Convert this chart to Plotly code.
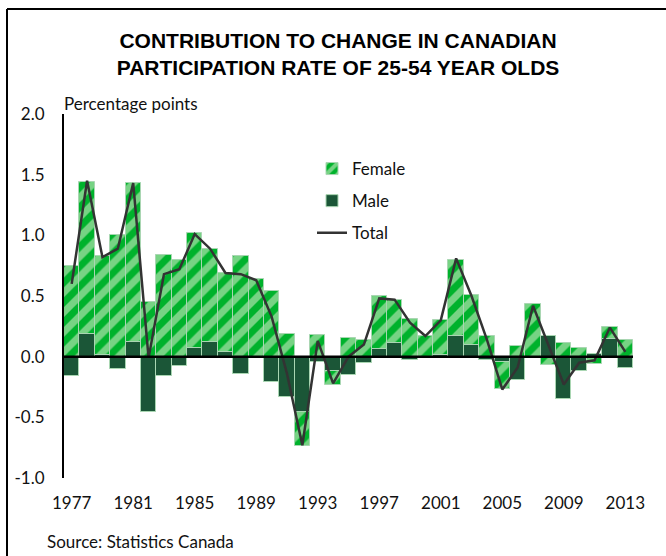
import plotly.graph_objects as go

# ---------------- data ----------------
years = list(range(1977, 2014))
female = [0.75, 1.25, 0.82, 1.00, 1.31, 0.45, 0.84, 0.80, 0.95, 0.77,
          0.65, 0.83, 0.64, 0.54, 0.19, -0.28, 0.18, -0.11, 0.15, 0.14,
          0.44, 0.36, 0.31, 0.17, 0.29, 0.63, 0.41, 0.17, -0.23, 0.09,
          0.43, -0.07, 0.11, 0.07, -0.06, 0.10, 0.14]
male = [-0.16, 0.19, 0.01, -0.10, 0.12, -0.46, -0.16, -0.08, 0.07, 0.12,
        0.04, -0.14, -0.01, -0.21, -0.33, -0.46, -0.04, -0.12, -0.15, -0.05,
        0.06, 0.11, -0.03, 0.00, 0.01, 0.17, 0.10, -0.03, -0.04, -0.19,
        0.00, 0.17, -0.35, -0.12, 0.02, 0.145, -0.09]
total = [0.60, 1.45, 0.82, 0.89, 1.43, -0.01, 0.68, 0.72, 1.01, 0.89,
         0.69, 0.68, 0.63, 0.33, -0.14, -0.73, 0.13, -0.22, 0.00, 0.10,
         0.48, 0.47, 0.28, 0.17, 0.30, 0.81, 0.50, 0.14, -0.27, -0.09,
         0.42, 0.10, -0.23, -0.05, -0.03, 0.24, 0.04]
y_tick_vals = [-1.0, -0.5, 0.0, 0.5, 1.0, 1.5, 2.0]
y_tick_text = ["-1.0", "-0.5", "0.0", "0.5", "1.0", "1.5", "2.0"]
x_tick_vals = list(range(1977, 2014, 4))
x_tick_text = [str(v) for v in x_tick_vals]

# ---------------- style ----------------
FEMALE_BG = "#00B22C"
FEMALE_FG = "#EEF3DC"
MALE_COL = "#1B5637"
EDGE = "#A9D6B2"
LINE_COL = "#333333"
TXT = "Lato, 'Open Sans', sans-serif"
FS = 17

W, H = 666, 556
L, R, T, B = 64, 33, 114, 78
PW, PH = W - L - R, H - T - B


def px_x(x):
    return (x - L) / PW


def px_y(y):
    return (H - B - y) / PH


fig = go.Figure()
fig.add_trace(go.Bar(
    x=years, y=male, name="Male", legendrank=2, legendgroup="m",
    marker=dict(color=MALE_COL, line=dict(color=EDGE, width=1)),
))
fig.add_trace(go.Bar(
    x=years, y=female, name="Female", legendrank=1, legendgroup="f",
    marker=dict(color=FEMALE_BG,
                pattern=dict(shape="/", bgcolor=FEMALE_BG, fgcolor=FEMALE_FG,
                             size=14, solidity=0.5),
                line=dict(color=EDGE, width=1)),
))
fig.add_trace(go.Scatter(
    x=years, y=total, name="Total", mode="lines", legendrank=3, legendgroup="t",
    line=dict(color=LINE_COL, width=2.5),
))

fig.update_layout(
    width=W, height=H,
    margin=dict(l=L, r=R, t=T, b=B),
    paper_bgcolor="white", plot_bgcolor="white",
    barmode="relative", bargap=0,
    font=dict(family=TXT, size=FS, color="#111111"),
    title=dict(
        text="<b>CONTRIBUTION TO CHANGE IN CANADIAN<br>PARTICIPATION RATE OF 25-54 YEAR OLDS</b>",
        font=dict(family="'Liberation Sans', Arial, sans-serif", size=21, color="black"),
        x=338 / W, xanchor="center", xref="container",
        y=1 - 48 / H, yanchor="top", yref="container",
    ),
    xaxis=dict(
        range=[1976.5, 2013.5], tickvals=x_tick_vals, ticktext=x_tick_text,
        showline=False, showgrid=False, zeroline=False, ticks="",
        ticklabelstandoff=13, tickfont=dict(family=TXT, size=FS, color="#111111"),
    ),
    yaxis=dict(
        range=[-1, 2], tickvals=y_tick_vals, ticktext=y_tick_text,
        showline=True, linecolor="black", linewidth=2, showgrid=False,
        zeroline=False, ticks="", ticklabelstandoff=14,
        tickfont=dict(family=TXT, size=FS, color="#111111"),
    ),
    legend=dict(
        x=px_x(312), xanchor="left", y=px_y(151), yanchor="top",
        font=dict(family=TXT, size=FS, color="#111111"),
        bgcolor="rgba(0,0,0,0)", tracegroupgap=7,
    ),
    shapes=[
        dict(type="line", xref="paper", yref="y", x0=0, x1=1, y0=0, y1=0,
             line=dict(color="black", width=2.5), layer="above"),
        dict(type="line", xref="paper", yref="paper",
             x0=px_x(7), x1=px_x(7), y0=px_y(560), y1=px_y(9),
             line=dict(color="black", width=2)),
        dict(type="line", xref="paper", yref="paper",
             x0=px_x(7), x1=px_x(670), y0=px_y(9), y1=px_y(9),
             line=dict(color="black", width=2)),
    ],
    annotations=[
        dict(text="Percentage points", xref="paper", yref="paper",
             x=px_x(62), xanchor="left", y=px_y(103), yanchor="middle",
             showarrow=False, font=dict(family=TXT, size=FS, color="#111111")),
        dict(text="Source: Statistics Canada", xref="paper", yref="paper",
             x=px_x(45), xanchor="left", y=px_y(541), yanchor="middle",
             showarrow=False, font=dict(family=TXT, size=FS, color="#111111")),
    ],
)

fig.write_html("out.html", config={"displayModeBar": False},
               post_script="document.body.style.margin='0';")
